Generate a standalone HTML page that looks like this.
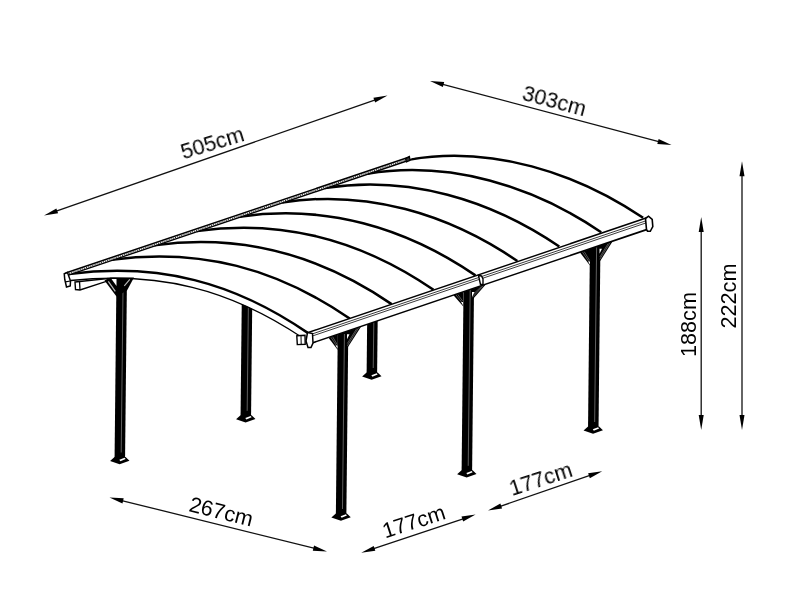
<!DOCTYPE html>
<html><head><meta charset="utf-8"><style>
html,body{margin:0;padding:0;background:#fff;width:800px;height:600px;overflow:hidden}
svg{display:block}
</style></head><body>
<svg width="800" height="600" viewBox="0 0 800 600">
<rect width="800" height="600" fill="#fff"/>
<line x1="51.93" y1="212.73" x2="379.57" y2="98.27" stroke="#111" stroke-width="1.3"/><polygon points="44,215.5 58.07,213.34 56.36,208.43" fill="#000"/><polygon points="387.5,95.5 375.14,102.57 373.43,97.66" fill="#000"/>
<line x1="438.12" y1="83.15" x2="663.38" y2="142.85" stroke="#111" stroke-width="1.3"/><polygon points="430,81 442.87,87.1 444.2,82.07" fill="#000"/><polygon points="671.5,145 657.3,143.93 658.63,138.9" fill="#000"/>
<line x1="117.65" y1="499.52" x2="318.85" y2="549.48" stroke="#111" stroke-width="1.3"/><polygon points="109.5,497.5 122.46,503.4 123.71,498.35" fill="#000"/><polygon points="327,551.5 312.79,550.65 314.04,545.6" fill="#000"/>
<line x1="369.22" y1="550.14" x2="467.63" y2="517.26" stroke="#111" stroke-width="1.3"/><polygon points="361.25,552.8 375.35,550.83 373.7,545.9" fill="#000"/><polygon points="475.6,514.6 463.15,521.5 461.5,516.57" fill="#000"/>
<line x1="495.94" y1="507.77" x2="594.26" y2="473.98" stroke="#111" stroke-width="1.3"/><polygon points="488,510.5 502.08,508.41 500.39,503.49" fill="#000"/><polygon points="602.2,471.25 589.81,478.26 588.12,473.34" fill="#000"/>
<line x1="701.2" y1="226" x2="701.2" y2="421" stroke="#111" stroke-width="1.3"/><polygon points="701.2,217 698.7,232 703.7,232" fill="#000"/><polygon points="701.2,430 698.7,415 703.7,415" fill="#000"/>
<line x1="742" y1="170.3" x2="742" y2="421" stroke="#111" stroke-width="1.3"/><polygon points="742,161.3 739.5,176.3 744.5,176.3" fill="#000"/><polygon points="742,430 739.5,415 744.5,415" fill="#000"/>
<g style="-webkit-font-smoothing:antialiased" opacity="0.999"><text transform="translate(214.5,150) rotate(-17) skewX(0) scale(1,1)" text-anchor="middle" font-family="'Liberation Sans', sans-serif" font-size="21.6" fill="#000">505cm</text><text transform="translate(552.5,108) rotate(15) skewX(0) scale(1,1)" text-anchor="middle" font-family="'Liberation Sans', sans-serif" font-size="21.6" fill="#000">303cm</text><text transform="translate(219.4,518.8) rotate(14) skewX(0) scale(1,1)" text-anchor="middle" font-family="'Liberation Sans', sans-serif" font-size="21.6" fill="#000">267cm</text><text transform="translate(416,528.5) rotate(-18) skewX(0) scale(1,1)" text-anchor="middle" font-family="'Liberation Sans', sans-serif" font-size="21.6" fill="#000">177cm</text><text transform="translate(543,486) rotate(-18) skewX(0) scale(1,1)" text-anchor="middle" font-family="'Liberation Sans', sans-serif" font-size="21.6" fill="#000">177cm</text><text transform="translate(696,324.5) rotate(-90) skewX(0) scale(1,1)" text-anchor="middle" font-family="'Liberation Sans', sans-serif" font-size="21.6" fill="#000">188cm</text><text transform="translate(736,296) rotate(-90) skewX(0) scale(1,1)" text-anchor="middle" font-family="'Liberation Sans', sans-serif" font-size="21.6" fill="#000">222cm</text></g>
<polygon points="116.53,272 127.03,272 125.08,458 114.58,458" fill="#000"/><line x1="123.14" y1="278" x2="121.2" y2="452.5" stroke="#8a8a8a" stroke-width="0.7"/><polygon points="110.08,460.9 114.58,457 125.58,457 129.48,460.7 119.63,464.3" fill="#000"/><polygon points="119.33,459.7 124.63,457.8 125.63,459 120.33,461.3" fill="#fff"/>
<polygon points="241.82,296 252.32,296 251.06,416.3 240.56,416.3" fill="#000"/><line x1="248.43" y1="302" x2="247.17" y2="410.8" stroke="#8a8a8a" stroke-width="0.7"/><polygon points="236.06,419.2 240.56,415.3 251.56,415.3 255.46,419 245.61,422.6" fill="#000"/><polygon points="245.31,418 250.61,416.1 251.61,417.3 246.31,419.6" fill="#fff"/>
<polygon points="367.22,315 377.72,315 377.11,373.5 366.61,373.5" fill="#000"/><line x1="373.83" y1="321" x2="373.22" y2="368" stroke="#8a8a8a" stroke-width="0.7"/><polygon points="362.11,376.4 366.61,372.5 377.61,372.5 381.51,376.2 371.66,379.8" fill="#000"/><polygon points="371.36,375.2 376.66,373.3 377.66,374.5 372.36,376.8" fill="#fff"/>
<polygon points="337.82,328 348.32,328 346.37,514.5 335.87,514.5" fill="#000"/><line x1="344.44" y1="334" x2="342.48" y2="509" stroke="#8a8a8a" stroke-width="0.7"/><polygon points="331.37,517.4 335.87,513.5 346.87,513.5 350.77,517.2 340.92,520.8" fill="#000"/><polygon points="340.62,516.2 345.92,514.3 346.92,515.5 341.62,517.8" fill="#fff"/>
<polygon points="463.58,283 474.08,283 472.11,471.3 461.61,471.3" fill="#000"/><line x1="470.19" y1="289" x2="468.22" y2="465.8" stroke="#8a8a8a" stroke-width="0.7"/><polygon points="457.11,474.2 461.61,470.3 472.61,470.3 476.51,474 466.66,477.6" fill="#000"/><polygon points="466.36,473 471.66,471.1 472.66,472.3 467.36,474.6" fill="#fff"/>
<polygon points="590,240 600.5,240 598.54,427.5 588.04,427.5" fill="#000"/><line x1="596.62" y1="246" x2="594.65" y2="422" stroke="#8a8a8a" stroke-width="0.7"/><polygon points="583.54,430.4 588.04,426.5 599.04,426.5 602.94,430.2 593.09,433.8" fill="#000"/><polygon points="592.79,429.2 598.09,427.3 599.09,428.5 593.79,430.8" fill="#fff"/>
<path d="M65.6 273 L409.4 157.04 C490.9 145.5 576.1 172.3 643.1 217.8 L647.5 218 L649 228.79 L312 343.03 L302.5 337.7 C228.9 288.5 159.4 271.5 70.5 280.5 Z" fill="#fff"/>
<clipPath id="cb"><polygon points="0,600 0,297.13 800,27.29 800,600"/></clipPath>
<g clip-path="url(#cb)" fill="none" stroke="#000" stroke-width="2.5"><path d="M111.62 259.69 C200.57 247.79 276.85 268.55 349.67 318.51"/><path d="M154.25 245.38 C242.05 233.17 319.6 254.8 391.59 304.12"/><path d="M196.88 231.06 C283.52 218.56 362.35 241.05 433.51 289.74"/><path d="M239.5 216.75 C325 203.95 405.1 227.3 475.43 275.35"/><path d="M282.12 202.44 C366.48 189.34 447.85 213.55 517.34 260.96"/><path d="M324.75 188.12 C407.95 174.72 490.6 199.8 559.26 246.58"/><path d="M367.38 173.81 C449.42 160.11 533.35 186.05 601.18 232.19"/><path d="M410 159.5 C490.9 145.5 576.1 172.3 643.1 217.8"/></g>
<path d="M69 274 C159.1 262.4 234.1 282.3 307.75 332.9" fill="none" stroke="#000" stroke-width="2.5"/>
<path d="M70.5 280.5 C159.4 271.5 228.9 288.5 302.5 337.7" fill="none" stroke="#000" stroke-width="1.3"/>
<line x1="69" y1="273.4" x2="406" y2="159.73" stroke="#fff" stroke-width="2.2"/>
<line x1="65.6" y1="273" x2="409.4" y2="157.04" stroke="#000" stroke-width="1.5"/>
<line x1="69" y1="273.45" x2="406" y2="159.78" stroke="#000" stroke-width="1.0" stroke-dasharray="0.9 1.1"/>
<line x1="69" y1="274.95" x2="406" y2="161.28" stroke="#000" stroke-width="1.4"/>
<polygon points="405.5,158.6 409.4,156.6 410,160.3 406.5,161.8" fill="#333" stroke="#000" stroke-width="1.3"/>
<polygon points="75,282 108,278.5 108,280.8 80,290 75.5,289.5" fill="#fff" stroke="#000" stroke-width="1.4"/>
<line x1="79.5" y1="281.5" x2="80" y2="290" stroke="#000" stroke-width="1.3"/>
<polygon points="64.25,273.75 67.5,272.5 70.5,281 70.25,286 66.5,287 64.75,279.5" fill="#fff" stroke="#000" stroke-width="1.5"/>
<line x1="65.5" y1="281.8" x2="70.3" y2="281" stroke="#000" stroke-width="1.2"/>
<polygon points="104.5,280.5 110,277.5 134,277.5 127,290.5 116.5,296.5" fill="#000"/>
<polygon points="111.5,279 116.5,279 116.5,286" fill="#fff"/>
<line x1="108.3" y1="281.3" x2="115.3" y2="291.3" stroke="#bbb" stroke-width="1.2"/>
<line x1="129.8" y1="279.3" x2="124.3" y2="285.8" stroke="#bbb" stroke-width="1.1"/>
<polygon points="328.5,337.74 337.8,334.29 337.8,350" fill="#000"/><polygon points="361,326.72 346.7,331.27 346.7,349" fill="#000"/><line x1="330.9" y1="337.22" x2="337.2" y2="346.8" stroke="#9a9a9a" stroke-width="0.55"/><line x1="358.6" y1="327.83" x2="347.3" y2="345.8" stroke="#9a9a9a" stroke-width="0.55"/><line x1="332.58" y1="336.66" x2="337.2" y2="344.56" stroke="#9a9a9a" stroke-width="0.55"/><line x1="356.92" y1="328.4" x2="347.3" y2="343.56" stroke="#9a9a9a" stroke-width="0.55"/><polygon points="335.6,345.5 337.5,345.5 337.5,348.8" fill="#fff"/><polygon points="347,334.27 349.5,334.27 347,339.27" fill="#fff"/>
<polygon points="453.5,295.36 463.3,291.74 463.3,306.5" fill="#000"/><polygon points="486,284.35 471.7,288.89 471.7,300.5" fill="#000"/><line x1="455.9" y1="294.85" x2="462.7" y2="303.3" stroke="#9a9a9a" stroke-width="0.55"/><line x1="483.6" y1="285.46" x2="472.3" y2="297.3" stroke="#9a9a9a" stroke-width="0.55"/><line x1="457.58" y1="294.28" x2="462.7" y2="301.06" stroke="#9a9a9a" stroke-width="0.55"/><line x1="481.92" y1="286.03" x2="472.3" y2="295.06" stroke="#9a9a9a" stroke-width="0.55"/><polygon points="461.1,302 463,302 463,305.3" fill="#fff"/><polygon points="472,291.89 474.5,291.89 472,296.89" fill="#fff"/>
<polygon points="580,252.48 590.3,248.69 590.3,266" fill="#000"/><polygon points="612.5,241.46 599.2,245.67 599.2,262.5" fill="#000"/><line x1="582.4" y1="251.97" x2="589.7" y2="262.8" stroke="#9a9a9a" stroke-width="0.55"/><line x1="610.1" y1="242.58" x2="599.8" y2="259.3" stroke="#9a9a9a" stroke-width="0.55"/><line x1="584.08" y1="251.4" x2="589.7" y2="260.56" stroke="#9a9a9a" stroke-width="0.55"/><line x1="608.42" y1="243.15" x2="599.8" y2="257.06" stroke="#9a9a9a" stroke-width="0.55"/><polygon points="588.1,261.5 590,261.5 590,264.8" fill="#fff"/><polygon points="599.5,248.67 602,248.67 599.5,253.67" fill="#fff"/>
<polygon points="308,332.59 647.5,217.5 649.5,228.62 312,343.03" fill="#fff"/>
<line x1="307.5" y1="332.76" x2="647.5" y2="217.5" stroke="#000" stroke-width="1.5"/>
<line x1="312" y1="343.03" x2="649.5" y2="228.62" stroke="#000" stroke-width="1.6"/>
<line x1="313" y1="333.69" x2="646" y2="220.81" stroke="#222" stroke-width="0.9"/>
<line x1="313" y1="335.79" x2="646" y2="222.91" stroke="#222" stroke-width="0.9"/>
<polygon points="307.5,332.5 312.5,333.5 313,343 311,347.5 308,347.5 306,341" fill="#fff" stroke="#000" stroke-width="1.5"/>
<polygon points="296.8,335.8 305,335.3 305.2,344.3 297.3,344.6" fill="#fff" stroke="#000" stroke-width="1.4"/>
<line x1="301" y1="336" x2="301.2" y2="344.3" stroke="#000" stroke-width="1"/>
<polygon points="478.5,275.5 481.5,276 483,279 483,284.5 480.5,284.5 479.5,280" fill="#fff" stroke="#000" stroke-width="1.4"/>
<polygon points="645.5,218.5 648.5,216.2 652.2,219.5 652.8,226.5 651.5,229 650.3,231.3 647.5,231.2 646.5,229.5" fill="#fff" stroke="#000" stroke-width="1.6"/>
</svg></body></html>
